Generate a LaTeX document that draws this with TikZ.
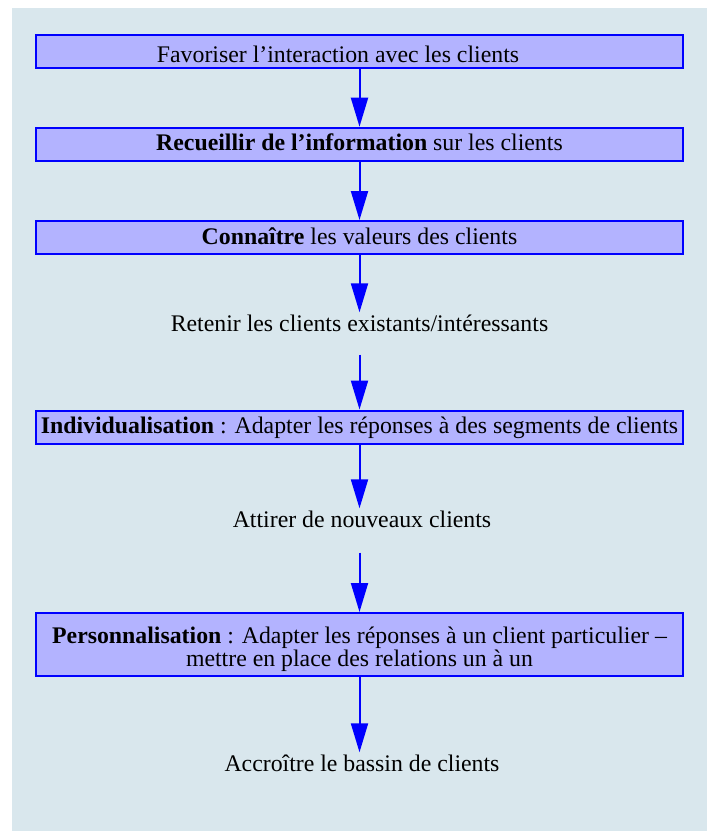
\documentclass[tikz,border=0pt]{standalone}
\usepackage{fontspec}
\setmainfont{Liberation Serif}
\usetikzlibrary{arrows.meta, positioning}
\definecolor{fond}{HTML}{D9E7ED}
\definecolor{bleu}{HTML}{0000FF}
\definecolor{lavande}{HTML}{B3B3FF}

\begin{document}
\begin{tikzpicture}[x=1pt, y=-1pt,
    font=\fontsize{23.8}{23.5}\selectfont,
    etape/.style={draw=bleu, fill=lavande, line width=2pt, minimum width=647pt,
                  minimum height=33pt, inner sep=0pt, align=center,
                  text height=17.5pt, text depth=4.5pt},
    texte/.style={inner sep=0pt, text height=16pt, text depth=5pt},
    fleche/.style={bleu, line width=2pt, -{Triangle[length=29pt, width=17pt]}}]
      % Cadre et fond
      \useasboundingbox (0,0) rectangle (709,831);
      \fill[fond] (12,8) rectangle (707,831);

      % Etapes
      \node[etape, text height=22pt, text depth=0pt] (favoriser) at (359.5,51.5)
        {Favoriser l’interaction avec les clients\hspace*{43pt}};
      \node[etape] (recueillir) at (359.5,144.2) {\textbf{Recueillir de l’information} sur les clients};
      \node[etape] (connaitre) at (359.5,237.5) {\textbf{Connaître} les valeurs des clients};
      \node[texte] (retenir) at (359.5,326) {Retenir les clients existants/intéressants};
      \node[etape] (individu) at (359.5,427) {\textbf{Individualisation} : Adapter les réponses à des segments de clients};
      \node[texte] (attirer) at (362,522) {Attirer de nouveaux clients};
      \node[etape, minimum height=63pt, text height=47.5pt, text depth=3pt] (perso) at (359.5,644.5)
        {\textbf{Personnalisation} : Adapter les réponses à un client particulier –\\
         mettre en place des relations un à un};
      \node[texte] (accroitre) at (362,766) {Accroître le bassin de clients};

      % Fleches
      \draw[fleche] (favoriser) -- (recueillir);
      \draw[fleche] (recueillir) -- (connaitre);
      \draw[fleche, shorten >=3pt] (connaitre) -- (retenir.north -| connaitre);
      \draw[fleche, shorten <=18pt] (retenir) -- (individu);
      \draw[fleche, shorten >=3pt] (individu) -- (attirer.north -| individu);
      \draw[fleche, shorten <=20pt] (attirer.south -| perso) -- (perso);
      \draw[fleche, shorten >=3pt] (perso) -- (accroitre.north -| perso);
    \end{tikzpicture}
\end{document}
